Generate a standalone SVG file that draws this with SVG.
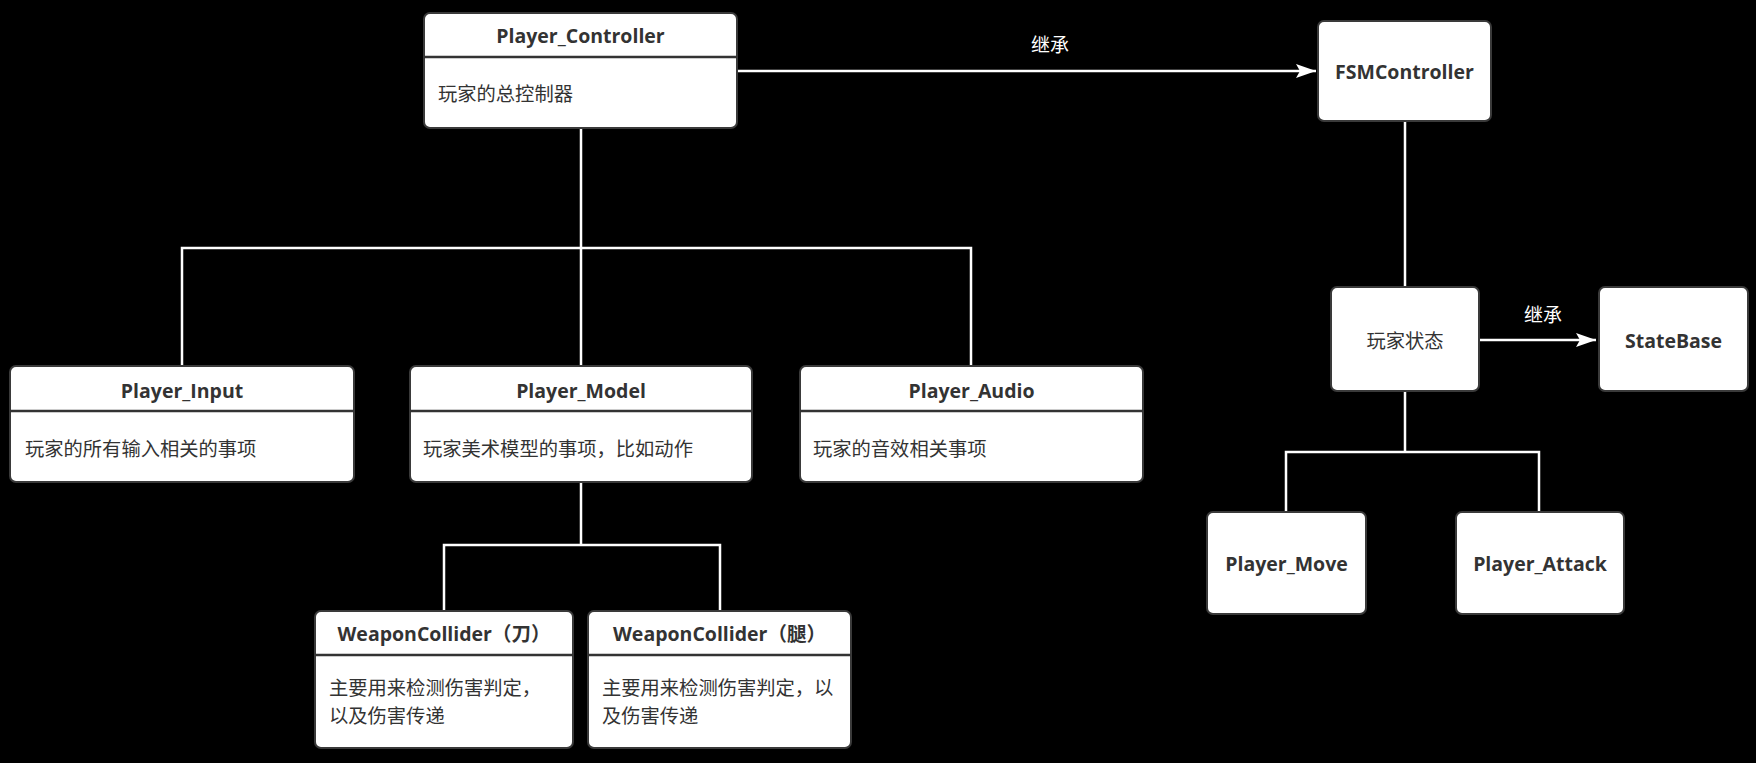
<svg xmlns="http://www.w3.org/2000/svg" width="1756" height="763" viewBox="0 0 1756 763">
<style>
.box{fill:#ffffff;stroke:#3a3a3a;stroke-width:2}
.div{stroke:#333333;stroke-width:2.5}
.t{font-family:"Open Sans","Noto Sans","Noto Sans CJK SC",sans-serif;font-weight:bold;font-size:19.5px;fill:#333333;text-anchor:middle;dominant-baseline:central}
.b{font-family:"Noto Sans CJK SC","Noto Sans",sans-serif;font-size:19.3px;fill:#333333;dominant-baseline:central}
.c{font-family:"Noto Sans CJK SC","Noto Sans",sans-serif;font-size:19.3px;fill:#333333;text-anchor:middle;dominant-baseline:central}
.lbl{font-family:"Noto Sans CJK SC",sans-serif;font-size:19px;fill:#ffffff;text-anchor:middle;dominant-baseline:central}
.ln{fill:none;stroke:#ffffff;stroke-width:2.5}
</style>
<defs>
<marker id="arr" markerUnits="userSpaceOnUse" markerWidth="22" markerHeight="16" refX="20" refY="8" orient="auto">
<path d="M0,1 L20,8 L0,15 L4,8 z" fill="#ffffff"/>
</marker>
</defs>
<rect width="1756" height="763" fill="#000000"/>
<g id="connectors">
<path class="ln" d="M581,128 V248 M182,366 V248 H971 V366 M581,248 V366"/>
<path class="ln" d="M581,482 V545 M444,610 V545 H720 V610"/>
<path class="ln" d="M1405,121 V287 M1405,391 V452 M1286,512 V452 H1539 V512"/>
<path class="ln" d="M738,71 H1316" marker-end="url(#arr)"/>
<text class="lbl" x="1050" y="43">继承</text>
<path class="ln" d="M1479,340 H1596" marker-end="url(#arr)"/>
<text class="lbl" x="1543" y="313">继承</text>
</g>
<g id="player_controller">
<rect class="box" x="424" y="13" width="313" height="115" rx="6"/>
<line class="div" x1="424" y1="57" x2="737" y2="57"/>
<text class="t" x="580.5" y="35">Player_Controller</text>
<text class="b" x="438" y="93">玩家的总控制器</text>
</g>
<g id="fsm_controller">
<rect class="box" x="1318" y="21" width="173" height="100" rx="6"/>
<text class="t" x="1404.5" y="71">FSMController</text>
</g>
<g id="player_input">
<rect class="box" x="10" y="366" width="344" height="116" rx="6"/>
<line class="div" x1="10" y1="411" x2="354" y2="411"/>
<text class="t" x="182" y="390">Player_Input</text>
<text class="b" x="25" y="448">玩家的所有输入相关的事项</text>
</g>
<g id="player_model">
<rect class="box" x="410" y="366" width="342" height="116" rx="6"/>
<line class="div" x1="410" y1="411" x2="752" y2="411"/>
<text class="t" x="581" y="390">Player_Model</text>
<text class="b" x="423" y="448">玩家美术模型的事项，比如动作</text>
</g>
<g id="player_audio">
<rect class="box" x="800" y="366" width="343" height="116" rx="6"/>
<line class="div" x1="800" y1="411" x2="1143" y2="411"/>
<text class="t" x="971.5" y="390">Player_Audio</text>
<text class="b" x="813" y="448">玩家的音效相关事项</text>
</g>
<g id="weapon_collider_blade">
<rect class="box" x="315" y="611" width="258" height="137" rx="6"/>
<line class="div" x1="315" y1="655" x2="573" y2="655"/>
<text class="t" x="444" y="633">WeaponCollider（刀）</text>
<text class="b" x="329" y="687">主要用来检测伤害判定，</text>
<text class="b" x="329" y="715">以及伤害传递</text>
</g>
<g id="weapon_collider_leg">
<rect class="box" x="588" y="611" width="263" height="137" rx="6"/>
<line class="div" x1="588" y1="655" x2="851" y2="655"/>
<text class="t" x="719.5" y="633">WeaponCollider（腿）</text>
<text class="b" x="602" y="687">主要用来检测伤害判定，以</text>
<text class="b" x="602" y="715">及伤害传递</text>
</g>
<g id="player_state">
<rect class="box" x="1331" y="287" width="148" height="104" rx="6"/>
<text class="c" x="1405" y="340">玩家状态</text>
</g>
<g id="state_base">
<rect class="box" x="1599" y="287" width="149" height="104" rx="6"/>
<text class="t" x="1673.5" y="340">StateBase</text>
</g>
<g id="player_move">
<rect class="box" x="1207" y="512" width="159" height="102" rx="6"/>
<text class="t" x="1286.5" y="563">Player_Move</text>
</g>
<g id="player_attack">
<rect class="box" x="1456" y="512" width="168" height="102" rx="6"/>
<text class="t" x="1540" y="563">Player_Attack</text>
</g>
</svg>
